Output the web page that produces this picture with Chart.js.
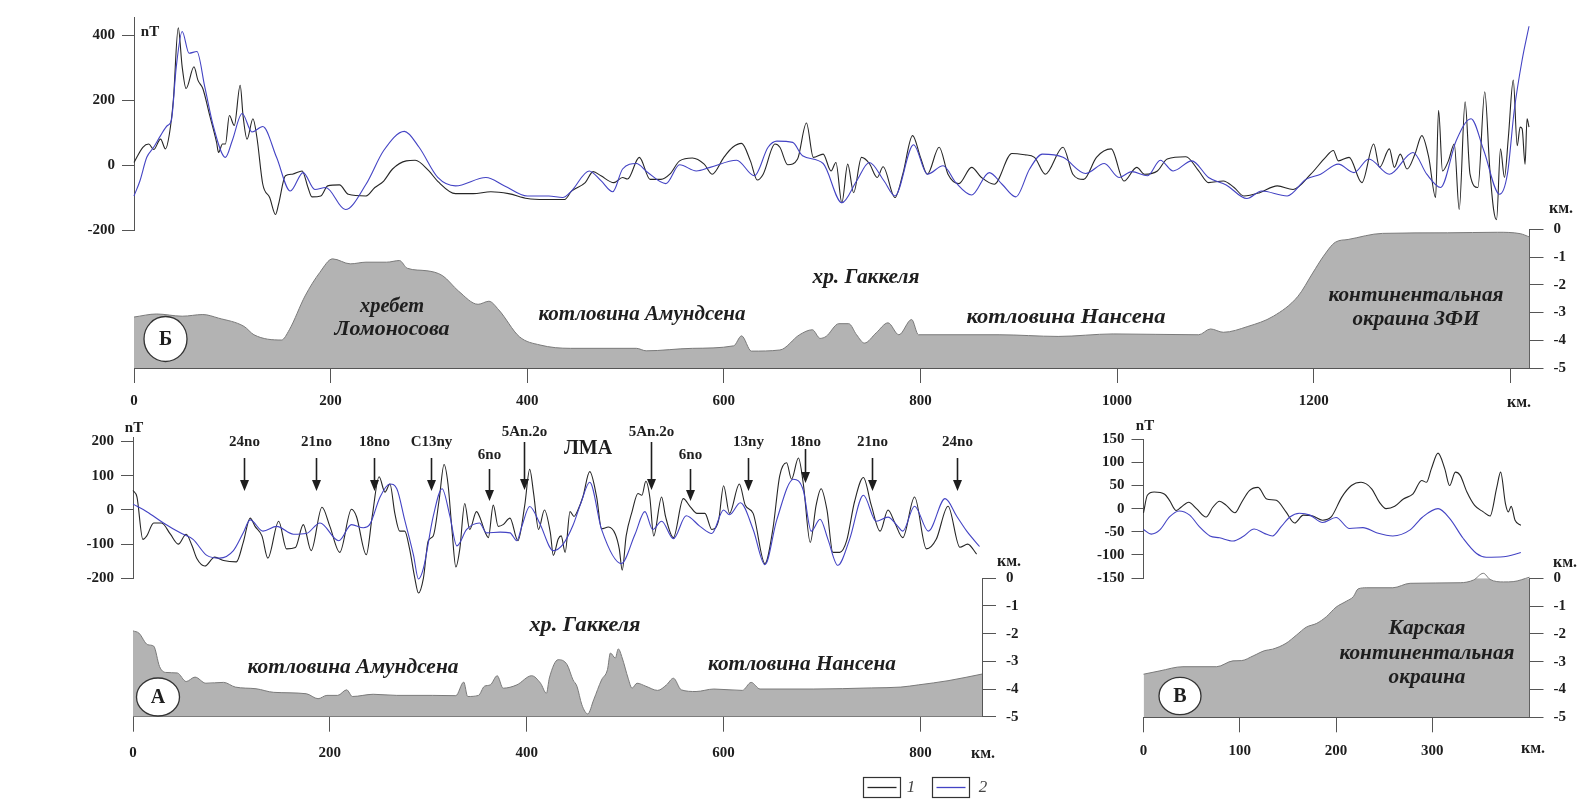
<!DOCTYPE html>
<html>
<head>
<meta charset="utf-8">
<script src="https://cdn.jsdelivr.net/npm/chart.js@4.4.1/dist/chart.umd.min.js"></script>
<style>
    html, body { margin: 0; padding: 0; background: #fff; }
    #wrap { position: relative; width: 1581px; height: 809px; overflow: hidden; background: #fff; }
    #wrap canvas { position: absolute; left: 0; top: 0; }
</style>
</head>
<body>
<div id="wrap">
    <canvas id="magB" width="1581" height="809"></canvas>
    <canvas id="depthB" width="1581" height="809"></canvas>
    <canvas id="magA" width="1581" height="809"></canvas>
    <canvas id="depthA" width="1581" height="809"></canvas>
    <canvas id="magV" width="1581" height="809"></canvas>
    <canvas id="depthV" width="1581" height="809"></canvas>
</div>
<script>
// profile Б: [km, nT] and [km, depth km]
const bBlack = [[0,8],[9,55],[15,65],[20,48],[27,80],[32,50],[36,96],[40,200],[45,423],[49,303],[53,236],[61,303],[65,262],[70,236],[77,153],[84,70],[86,39],[90,65],[93,65],[97,153],[102,122],[108,246],[111,150],[115,80],[121,143],[125,86],[131,-59],[138,-100],[144,-152],[147,-121],[154,-33],[161,-28],[171,-18],[177,-69],[181,-98],[190,-95],[197,-64],[209,-61],[218,-90],[236,-95],[245,-69],[254,-49],[263,-12],[277,13],[286,15],[300,-18],[309,-50],[327,-88],[345,-88],[363,-82],[381,-88],[400,-103],[418,-106],[438,-106],[445,-80],[459,-54],[467,-20],[475,-33],[488,-54],[497,-38],[502,-43],[514,24],[525,-44],[536,-44],[545,-28],[555,13],[568,22],[580,3],[588,-28],[600,24],[609,55],[618,67],[627,13],[634,-46],[640,-28],[652,65],[657,55],[665,1],[675,19],[684,130],[691,24],[701,34],[709,-18],[714,8],[720,-116],[726,3],[732,-85],[740,24],[748,5],[756,-38],[762,-5],[774,-100],[782,-28],[792,91],[800,24],[807,-28],[819,55],[828,-28],[839,-57],[852,-7],[862,-38],[875,-59],[893,36],[906,32],[916,24],[927,-28],[945,55],[955,-28],[966,-44],[979,24],[994,50],[1007,-49],[1020,-7],[1028,-28],[1041,-18],[1051,19],[1070,26],[1083,-18],[1093,-54],[1108,-49],[1119,-69],[1129,-95],[1145,-85],[1163,-64],[1179,-75],[1197,-28],[1212,24],[1220,45],[1225,13],[1236,24],[1249,-54],[1261,65],[1267,-7],[1277,50],[1282,-7],[1288,34],[1295,-12],[1303,34],[1310,91],[1317,24],[1324,-100],[1327,169],[1331,-18],[1337,13],[1343,65],[1348,-137],[1354,195],[1359,-28],[1367,-69],[1374,226],[1379,-7],[1383,-137],[1386,-168],[1390,50],[1394,-38],[1398,86],[1403,262],[1407,60],[1410,117],[1412,112],[1415,3],[1417,143],[1419,117]];
const bBlue = [[0,-95],[6,-49],[13,24],[20,55],[27,91],[34,122],[38,138],[43,303],[49,412],[56,345],[64,350],[72,241],[81,117],[93,24],[100,76],[110,159],[120,102],[131,119],[145,24],[159,-80],[172,-23],[184,-75],[195,-69],[215,-137],[236,-59],[254,45],[275,104],[290,55],[309,-38],[327,-64],[358,-38],[377,-64],[400,-95],[422,-95],[436,-100],[445,-80],[463,-18],[475,-48],[487,-82],[497,-12],[511,5],[522,-21],[541,-57],[555,1],[572,-18],[586,-7],[613,15],[631,-33],[645,55],[654,74],[670,70],[680,29],[701,5],[720,-116],[735,-49],[748,8],[763,-49],[774,-95],[793,63],[807,-28],[823,-2],[836,-54],[852,-92],[870,-23],[883,-59],[897,-98],[911,-12],[924,34],[945,24],[968,-26],[987,5],[1002,-38],[1015,-20],[1031,-33],[1044,15],[1057,-18],[1076,13],[1093,-38],[1111,-61],[1132,-103],[1147,-80],[1173,-95],[1192,-44],[1207,-28],[1225,3],[1241,-23],[1256,19],[1277,-28],[1301,39],[1315,-28],[1329,-69],[1345,76],[1360,143],[1373,45],[1389,-90],[1397,-28],[1404,169],[1412,324],[1419,428]];
const bDepth = [[0,-3.16],[23,-3.05],[49,-3.13],[70,-3.07],[86,-3.2],[112,-3.5],[122,-3.8],[150,-3.99],[158,-3.62],[174,-2.4],[189,-1.55],[202,-1.06],[220,-1.24],[236,-1.18],[257,-1.18],[270,-1.12],[278,-1.4],[298,-1.49],[314,-1.67],[330,-2.22],[350,-2.7],[361,-2.59],[371,-2.9],[392,-3.87],[413,-4.17],[444,-4.29],[511,-4.29],[521,-4.38],[568,-4.29],[610,-4.2],[618,-3.84],[628,-4.39],[657,-4.35],[677,-3.8],[690,-3.62],[698,-3.93],[704,-3.86],[717,-3.4],[727,-3.4],[735,-3.8],[743,-4.1],[755,-3.73],[767,-3.37],[778,-3.8],[791,-3.25],[798,-3.8],[880,-3.8],[940,-3.86],[996,-3.77],[1083,-3.8],[1095,-3.59],[1108,-3.71],[1133,-3.5],[1159,-3.13],[1184,-2.41],[1199,-1.57],[1210,-0.96],[1222,-0.46],[1235,-0.36],[1270,-0.14],[1336,-0.12],[1387,-0.1],[1410,-0.15],[1419.5,-0.27]];

// profile А
const aBlack = [[0,57],[4,38],[10,-86],[14,-76],[21,-38],[29,-38],[38,-71],[46,-100],[54,-71],[60,-105],[65,-143],[73,-164],[83,-138],[92,-148],[105,-152],[112,-95],[119,-24],[124,-48],[131,-76],[137,-141],[148,-33],[156,-114],[165,-110],[173,-43],[181,-119],[192,8],[200,-48],[210,-124],[222,2],[227,-19],[237,-131],[243,-19],[250,97],[256,52],[261,76],[266,-10],[271,-62],[276,-62],[281,-114],[286,-195],[290,-243],[295,-200],[300,-90],[305,-76],[311,29],[316,133],[320,76],[324,-57],[328,-167],[332,-114],[337,19],[342,-57],[349,-5],[352,-19],[358,-67],[361,-81],[366,14],[371,-48],[376,-43],[383,-24],[391,-90],[398,14],[403,119],[407,48],[412,-57],[418,0],[424,-67],[427,-133],[432,-85],[435,-76],[439,-124],[444,-5],[448,-19],[452,0],[457,38],[464,112],[471,38],[476,-55],[483,-50],[490,-71],[494,-114],[497,-176],[501,-76],[507,-5],[513,48],[517,43],[521,84],[525,38],[529,-76],[537,38],[541,-19],[549,-81],[559,33],[566,10],[573,-10],[581,-10],[588,-57],[595,-29],[600,71],[606,-10],[616,76],[622,14],[630,-10],[642,-157],[650,-57],[657,100],[664,138],[669,90],[676,152],[681,76],[688,-95],[694,14],[699,62],[705,0],[711,-124],[718,-124],[725,-90],[733,24],[742,95],[750,14],[759,-62],[767,0],[774,-38],[782,-81],[794,38],[806,-114],[816,-86],[828,11],[840,-109],[848,-100],[857,-129]];
const aBlue = [[0,17],[14,-5],[31,-38],[48,-67],[61,-86],[75,-133],[88,-141],[102,-119],[112,-67],[119,-29],[132,-62],[146,-48],[163,-71],[176,-69],[190,-38],[209,-90],[222,-43],[234,-52],[241,-40],[251,38],[261,76],[268,62],[276,-29],[285,-133],[290,-202],[295,-171],[305,-19],[314,62],[322,-19],[329,-105],[339,-57],[352,-38],[359,-67],[373,-65],[383,-67],[390,-90],[395,-48],[403,10],[413,-38],[427,-119],[437,-100],[447,-45],[455,20],[464,81],[476,-57],[496,-157],[510,-71],[520,-5],[528,-57],[537,-33],[549,-84],[562,-17],[576,-48],[588,-69],[600,0],[606,-14],[617,21],[630,-57],[642,-160],[654,-29],[671,90],[681,57],[689,-62],[698,-27],[706,-86],[716,-162],[728,-86],[742,43],[755,-33],[767,-21],[777,-48],[782,-62],[794,11],[808,-62],[825,33],[837,-19],[847,-62],[860,-107]];
const aDepth = [[0,-1.9],[6,-1.98],[15,-2.4],[21,-2.45],[27,-3.19],[33,-3.4],[45,-3.42],[54,-3.73],[63,-3.57],[74,-3.79],[92,-3.76],[104,-3.93],[125,-3.99],[143,-4.12],[176,-4.17],[188,-4.35],[197,-4.23],[208,-4.23],[217,-4.03],[223,-4.27],[244,-4.19],[268,-4.23],[304,-4.23],[328,-4.24],[336,-3.75],[340,-4.27],[351,-4.23],[357,-3.9],[363,-3.85],[370,-3.52],[376,-3.97],[390,-3.85],[405,-3.52],[414,-3.79],[420,-4.15],[423,-3.6],[432,-2.94],[441,-3.12],[447,-3.67],[451,-3.9],[456,-4.57],[462,-4.9],[468,-4.39],[476,-3.67],[482,-3.3],[485,-2.7],[490,-2.88],[493,-2.55],[497,-2.88],[503,-3.61],[507,-3.97],[512,-3.79],[521,-3.9],[533,-4.05],[542,-3.85],[549,-3.61],[557,-4.03],[572,-4.09],[590,-4.0],[619,-4.05],[628,-3.76],[637,-4.0],[691,-4.0],[750,-3.96],[780,-3.93],[798,-3.85],[828,-3.7],[862.5,-3.46]];

// profile В
const vBlack = [[0,-9],[4,29],[11,36],[22,31],[27,18],[34,-4],[39,3],[47,14],[55,0],[65,-18],[72,3],[79,16],[86,7],[95,-9],[102,14],[110,39],[119,46],[128,21],[138,18],[148,-7],[157,-31],[166,-14],[176,-16],[186,-25],[195,-18],[206,25],[216,50],[226,57],[237,43],[245,14],[252,0],[261,5],[270,21],[280,32],[289,61],[294,57],[299,86],[306,120],[313,86],[318,50],[324,79],[329,72],[336,36],[344,7],[353,-7],[360,-16],[367,46],[371,79],[376,11],[379,-7],[382,5],[386,-25],[392,-36]];
const vBlue = [[0,-45],[8,-55],[17,-46],[27,-18],[37,-5],[48,-14],[58,-39],[69,-59],[79,-63],[93,-70],[103,-61],[115,-44],[126,-54],[134,-59],[143,-39],[152,-18],[162,-10],[173,-14],[186,-30],[200,-19],[214,-43],[228,-41],[242,-52],[259,-59],[277,-46],[290,-18],[306,0],[318,-21],[332,-64],[346,-97],[356,-105],[374,-104],[392,-95]];
const vDepth = [[0,-3.45],[17,-3.33],[41,-3.18],[76,-3.18],[93,-2.97],[102,-2.96],[114,-2.79],[126,-2.6],[134,-2.55],[148,-2.34],[159,-2.04],[169,-1.76],[180,-1.62],[190,-1.38],[200,-1.04],[211,-0.82],[218,-0.66],[223,-0.38],[232,-0.34],[259,-0.34],[277,-0.18],[329,-0.16],[343,-0.06],[353,0.18],[360,-0.04],[374,-0.13],[384,-0.12],[401,0.04]];

// magnetic chrons marked on profile А
const chronNames = ['24no', '21no', '18no', 'C13ny', '6no', '5An.2o', '5An.2o', '6no', '13ny', '18no', '21no', '24no'];
const chronKm = [113, 186, 245, 303, 362, 397, 526, 566, 625, 683, 751, 837];
const chronRow = ['n', 'n', 'n', 'n', 'lo', 'hi', 'hi', 'lo', 'n', 'r', 'n', 'n'];

const bTicksX = [0, 200, 400, 600, 800, 1000, 1200, 1400];
const aTicksX = [0, 200, 400, 600, 800];
const vTicksX = [0, 100, 200, 300];
const bTicksNt = [-200, 0, 200, 400];
const aTicksNt = [-200, -100, 0, 100, 200];
const vTicksNt = [-150, -100, -50, 0, 50, 100, 150];
const depthTicks = [0, -1, -2, -3, -4, -5];

const W = 1581, H = 809;
const SERIF = "'Liberation Serif', 'Times New Roman', serif";
const INK = '#1e1e1e';
const AXIS = '#555';
const TICK_FONT = { family: SERIF, size: 15, weight: 'bold' };
const BLACK_LINE = '#262626';
const BLUE_LINE = '#4343c4';
const REGION = 'italic bold 20px ' + SERIF;
const UNIT = 'bold 16px ' + SERIF;

function xy(pairs) {
    return pairs.map(function(p) { return { x: p[0], y: p[1] }; });
}

function fixSize(dim, size) {
    return function(scale) {
        scale[dim] = size;
        scale.paddingLeft = 0;
        scale.paddingRight = 0;
        scale.paddingTop = 0;
        scale.paddingBottom = 0;
    };
}

function useTicks(values) {
    return function(scale) {
        scale.ticks = values.map(function(v) { return { value: v }; });
    };
}

function axisLook(len) {
    return {
        border: { display: true, color: AXIS, width: 1 },
        grid: { drawOnChartArea: false, drawTicks: true, tickLength: len, tickColor: AXIS, tickWidth: 1 }
    };
}

// free text, units and panel badges, in page pixels
function textLayer(items) {
    return {
        id: 'textLayer',
        afterDraw: function(chart) {
            const ctx = chart.ctx;
            items.forEach(function(it) {
                ctx.save();
                ctx.translate(it.x, it.y);
                if (it.badge) {
                    ctx.beginPath();
                    ctx.ellipse(0, 0, it.rx, it.ry, 0, 0, Math.PI * 2);
                    ctx.fillStyle = '#fff';
                    ctx.fill();
                    ctx.lineWidth = 1.3;
                    ctx.strokeStyle = '#333';
                    ctx.stroke();
                }
                ctx.font = it.font;
                ctx.fillStyle = it.color || INK;
                ctx.textAlign = 'center';
                ctx.textBaseline = 'middle';
                if (it.w) {
                    ctx.scale(it.w / ctx.measureText(it.t).width, 1);
                }
                ctx.fillText(it.t, 0, 1);
                ctx.restore();
            });
        }
    };
}

function magChart(id, box, xMax, yRange, yTicks, black, blue, extra) {
    return new Chart(document.getElementById(id), {
        type: 'line',
        data: {
            datasets: [
                { data: xy(blue), borderColor: BLUE_LINE, borderWidth: 1.1, pointRadius: 0, cubicInterpolationMode: 'monotone', clip: false, fill: false },
                { data: xy(black), borderColor: BLACK_LINE, borderWidth: 1.1, pointRadius: 0, cubicInterpolationMode: 'monotone', clip: false, fill: false }
            ]
        },
        options: {
            responsive: false,
            animation: false,
            events: [],
            devicePixelRatio: 1,
            layout: { autoPadding: false, padding: { left: 0, right: W - box.r, top: box.t, bottom: H - box.b } },
            plugins: { legend: { display: false }, tooltip: { enabled: false } },
            scales: {
                x: { type: 'linear', display: false, min: 0, max: xMax },
                y: Object.assign({
                    type: 'linear', position: 'left', min: yRange[0], max: yRange[1],
                    afterBuildTicks: useTicks(yTicks),
                    afterFit: fixSize('width', box.l),
                    ticks: { font: TICK_FONT, color: INK, padding: 7, callback: function(v) { return String(v); } }
                }, axisLook(12))
            }
        },
        plugins: extra
    });
}

function depthChart(id, box, xMax, xTicks, depth, labelPad, extra) {
    return new Chart(document.getElementById(id), {
        type: 'line',
        data: {
            datasets: [{
                data: xy(depth), borderColor: '#7a7a7a', borderWidth: 1, backgroundColor: '#b3b3b3',
                fill: 'start', pointRadius: 0, cubicInterpolationMode: 'monotone', clip: false
            }]
        },
        options: {
            responsive: false,
            animation: false,
            events: [],
            devicePixelRatio: 1,
            layout: { autoPadding: false, padding: { left: box.l, right: 0, top: box.t, bottom: 0 } },
            plugins: { legend: { display: false }, tooltip: { enabled: false } },
            scales: {
                x: Object.assign({
                    type: 'linear', position: 'bottom', min: 0, max: xMax,
                    afterBuildTicks: useTicks(xTicks),
                    afterFit: fixSize('height', H - box.b),
                    ticks: {
                        font: TICK_FONT, color: INK, padding: labelPad, autoSkip: false, maxRotation: 0,
                        callback: function(v) { return v === 1400 ? '' : String(v); }
                    }
                }, axisLook(15)),
                y: Object.assign({
                    type: 'linear', position: 'right', min: -5, max: 0,
                    afterBuildTicks: useTicks(depthTicks),
                    afterFit: fixSize('width', W - box.r),
                    ticks: { font: TICK_FONT, color: INK, padding: 10, callback: function(v) { return String(v); } }
                }, axisLook(14))
            }
        },
        plugins: extra
    });
}

const rows = {
    n:  { label: 442, top: 458, tip: 491 },
    hi: { label: 432, top: 442, tip: 490 },
    lo: { label: 455, top: 469, tip: 501 },
    r:  { label: 442, top: 449, tip: 483 }
};

const chronArrows = {
    id: 'chronArrows',
    afterDraw: function(chart) {
        const ctx = chart.ctx;
        const xs = chart.scales.x;
        chronNames.forEach(function(name, i) {
            const row = rows[chronRow[i]];
            const px = Math.round(xs.getPixelForValue(chronKm[i])) + 0.5;
            ctx.save();
            ctx.strokeStyle = INK;
            ctx.fillStyle = INK;
            ctx.lineWidth = 1.6;
            ctx.beginPath();
            ctx.moveTo(px, row.top);
            ctx.lineTo(px, row.tip - 8);
            ctx.stroke();
            ctx.beginPath();
            ctx.moveTo(px - 4.5, row.tip - 11);
            ctx.lineTo(px + 4.5, row.tip - 11);
            ctx.lineTo(px, row.tip);
            ctx.closePath();
            ctx.fill();
            ctx.font = 'bold 15px ' + SERIF;
            ctx.textAlign = 'center';
            ctx.textBaseline = 'middle';
            ctx.fillText(name, px, row.label);
            ctx.restore();
        });
    }
};

const legendBoxes = {
    id: 'legendBoxes',
    afterDraw: function(chart) {
        const ctx = chart.ctx;
        [['1', BLACK_LINE, 863.5, 911], ['2', BLUE_LINE, 932.5, 983]].forEach(function(it) {
            ctx.save();
            ctx.strokeStyle = '#333';
            ctx.lineWidth = 1.2;
            ctx.strokeRect(it[2], 777.5, 37, 20);
            ctx.strokeStyle = it[1];
            ctx.lineWidth = 1.3;
            ctx.beginPath();
            ctx.moveTo(it[2] + 4, 787.5);
            ctx.lineTo(it[2] + 33, 787.5);
            ctx.stroke();
            ctx.font = 'italic 17px ' + SERIF;
            ctx.fillStyle = '#444';
            ctx.textAlign = 'center';
            ctx.textBaseline = 'middle';
            ctx.fillText(it[0], it[3], 788);
            ctx.restore();
        });
    }
};

// Б
magChart('magB', { l: 134, r: 1529.5, t: 17.5, b: 230 }, 1419.5, [-200, 455], bTicksNt, bBlack, bBlue, [
    textLayer([{ t: 'nT', x: 150, y: 31, font: 'bold 15px ' + SERIF }])
]);
depthChart('depthB', { l: 134, r: 1529.5, t: 229.5, b: 368 }, 1419.5, bTicksX, bDepth, 9, [
    textLayer([
        { t: 'хребет', x: 392, y: 306, font: REGION, w: 64 },
        { t: 'Ломоносова', x: 392, y: 329, font: REGION, w: 115 },
        { t: 'котловина Амундсена', x: 642, y: 314, font: REGION, w: 207 },
        { t: 'хр. Гаккеля', x: 866, y: 277, font: REGION, w: 107 },
        { t: 'котловина Нансена', x: 1066, y: 317, font: REGION, w: 199 },
        { t: 'континентальная', x: 1416, y: 295, font: REGION, w: 175 },
        { t: 'окраина ЗФИ', x: 1416, y: 319, font: REGION, w: 127 },
        { t: 'Б', x: 165.5, y: 339, font: 'bold 20px ' + SERIF, badge: true, rx: 21.5, ry: 22.5 },
        { t: 'км.', x: 1561, y: 208, font: UNIT },
        { t: 'км.', x: 1519, y: 402, font: UNIT }
    ])
]);

// А
magChart('magA', { l: 133, r: 982, t: 437.5, b: 578.3 }, 862.5, [-200, 212], aTicksNt, aBlack, aBlue, [
    chronArrows,
    textLayer([
        { t: 'nT', x: 134, y: 427, font: 'bold 15px ' + SERIF },
        { t: 'ЛМА', x: 588, y: 448, font: 'bold 20px ' + SERIF }
    ])
]);
depthChart('depthA', { l: 133, r: 982, t: 578.3, b: 716.7 }, 862.5, aTicksX, aDepth, 12, [
    legendBoxes,
    textLayer([
        { t: 'хр. Гаккеля', x: 585, y: 625, font: REGION, w: 111 },
        { t: 'котловина Амундсена', x: 353, y: 667, font: REGION, w: 211 },
        { t: 'котловина Нансена', x: 802, y: 664, font: REGION, w: 188 },
        { t: 'А', x: 158, y: 697, font: 'bold 20px ' + SERIF, badge: true, rx: 21.5, ry: 19 },
        { t: 'км.', x: 1009, y: 561, font: UNIT },
        { t: 'км.', x: 983, y: 753, font: UNIT }
    ])
]);

// В
magChart('magV', { l: 1143.5, r: 1529.5, t: 439.3, b: 578 }, 401, [-150, 150], vTicksNt, vBlack, vBlue, [
    textLayer([{ t: 'nT', x: 1145, y: 425, font: 'bold 15px ' + SERIF }])
]);
depthChart('depthV', { l: 1143.5, r: 1529.5, t: 578.3, b: 717.3 }, 401, vTicksX, vDepth, 10, [
    textLayer([
        { t: 'Карская', x: 1427, y: 628, font: REGION, w: 77 },
        { t: 'континентальная', x: 1427, y: 653, font: REGION, w: 175 },
        { t: 'окраина', x: 1427, y: 677, font: REGION, w: 77 },
        { t: 'В', x: 1180, y: 696, font: 'bold 20px ' + SERIF, badge: true, rx: 21, ry: 18.7 },
        { t: 'км.', x: 1565, y: 562, font: UNIT },
        { t: 'км.', x: 1533, y: 748, font: UNIT }
    ])
]);
</script>
</body>
</html>
